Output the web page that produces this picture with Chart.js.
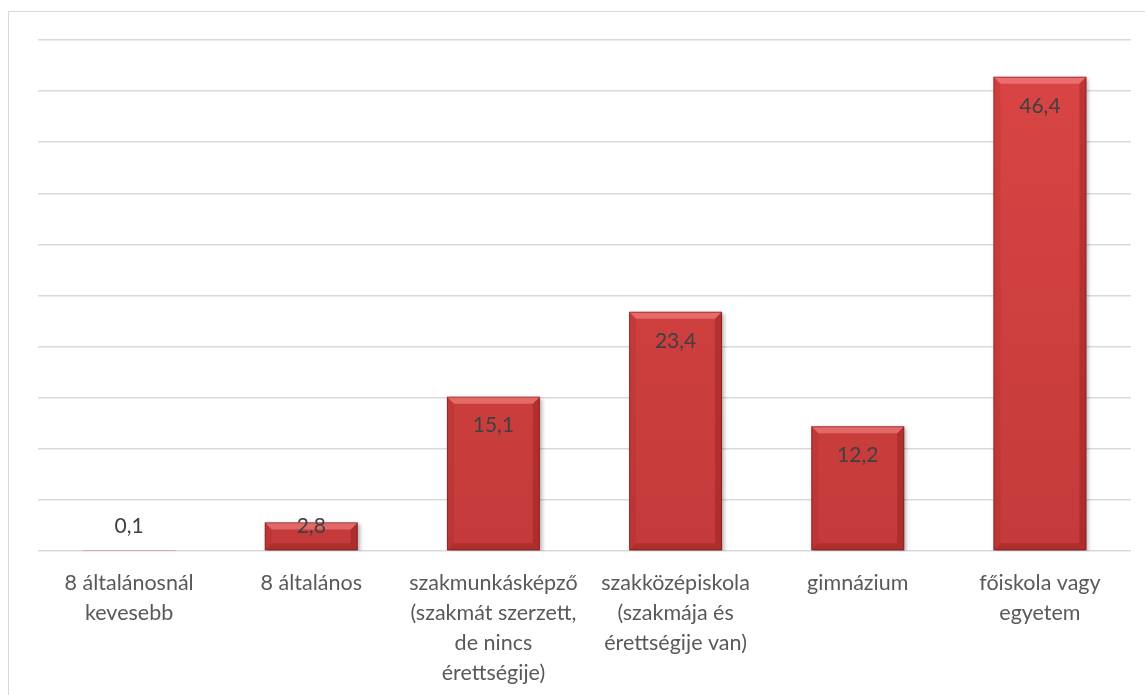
<!DOCTYPE html>
<html>
<head>
<meta charset="utf-8">
<script src="https://cdn.jsdelivr.net/npm/chart.js@4"></script>
<style>
  body { margin: 0; background: #fff; }
  #keret { position: absolute; left: 8px; top: 11px; width: 1200px; height: 760px; border: 1px solid #d9d9d9; }
  #grafikon { position: absolute; left: 0; top: 0; }
</style>
</head>
<body>
<div id="keret"></div>
<canvas id="grafikon" width="1145" height="695"></canvas>
<script>
const KATEGORIAK = [
  ['8 általánosnál', 'kevesebb'],
  '8 általános',
  ['szakmunkásképző', '(szakmát szerzett,', 'de nincs', 'érettségije)'],
  ['szakközépiskola', '(szakmája és', 'érettségije van)'],
  'gimnázium',
  ['főiskola vagy', 'egyetem']
];
const ERTEKEK = [0.1, 2.8, 15.1, 23.4, 12.2, 46.4];
const Y_MIN = 0;
const Y_MAX = 50;
const Y_LEPES = 5;

const BETU = '"Lato", "Noto Sans", sans-serif';

// oszlopok kitöltése: függőleges színátmenet
function oszlopSzin(ctx) {
  const chart = ctx.chart;
  const area = chart.chartArea;
  if (!area) return '#d04040';
  const g = chart.ctx.createLinearGradient(0, area.top, 0, area.bottom);
  g.addColorStop(0, '#da4545');
  g.addColorStop(1, '#c43a3a');
  return g;
}

// árnyék + kiemelt élek (Excel-szerű dombormű)
const dombormu = {
  id: 'dombormu',
  beforeDatasetDraw(chart) {
    const c = chart.ctx;
    c.save();
    c.shadowColor = 'rgba(0,0,0,0.3)';
    c.shadowBlur = 4;
    c.shadowOffsetX = 2;
    c.shadowOffsetY = 2;
  },
  afterDatasetDraw(chart, args) {
    const c = chart.ctx;
    c.restore();
    args.meta.data.forEach(bar => {
      const x0 = bar.x - bar.width / 2;
      const x1 = bar.x + bar.width / 2;
      const y0 = bar.y;
      const y1 = bar.base;
      const h = y1 - y0;
      if (h < 2) return;
      const b = Math.min(7, h / 2);
      c.save();
      // felső él
      c.fillStyle = 'rgba(255,150,150,0.5)';
      c.beginPath();
      c.moveTo(x0, y0); c.lineTo(x1, y0); c.lineTo(x1 - b, y0 + b); c.lineTo(x0 + b, y0 + b); c.closePath();
      c.fill();
      // jobb él
      c.fillStyle = 'rgba(90,0,0,0.22)';
      c.beginPath();
      c.moveTo(x1, y0); c.lineTo(x1, y1); c.lineTo(x1 - b, y1 - b); c.lineTo(x1 - b, y0 + b); c.closePath();
      c.fill();
      // bal él
      c.fillStyle = 'rgba(90,0,0,0.08)';
      c.beginPath();
      c.moveTo(x0, y0); c.lineTo(x0, y1); c.lineTo(x0 + b, y1 - b); c.lineTo(x0 + b, y0 + b); c.closePath();
      c.fill();
      // alsó él
      c.fillStyle = 'rgba(90,0,0,0.2)';
      c.beginPath();
      c.moveTo(x0, y1); c.lineTo(x1, y1); c.lineTo(x1 - b, y1 - b); c.lineTo(x0 + b, y1 - b); c.closePath();
      c.fill();
      c.strokeStyle = 'rgba(110,20,20,0.5)';
      c.lineWidth = 1;
      c.strokeRect(x0 + 0.5, y0 + 0.5, x1 - x0 - 1, h - 1);
      c.restore();
    });
  }
};

// adatfeliratok az oszlopok tetején belül
const feliratok = {
  id: 'feliratok',
  afterDatasetsDraw(chart) {
    const c = chart.ctx;
    const meta = chart.getDatasetMeta(0);
    c.save();
    c.font = '21px ' + BETU;
    c.fillStyle = '#404040';
    c.textAlign = 'center';
    c.textBaseline = 'middle';
    meta.data.forEach((bar, i) => {
      const y = Math.min(bar.y + 29, bar.base - 24);
      c.fillText(ERTEKEK[i].toFixed(1).replace('.', ','), bar.x, y);
    });
    c.restore();
  }
};

new Chart(document.getElementById('grafikon'), {
  type: 'bar',
  data: {
    labels: KATEGORIAK,
    datasets: [{
      data: ERTEKEK,
      backgroundColor: oszlopSzin,
      borderWidth: 0,
      barPercentage: 0.51,
      categoryPercentage: 1
    }]
  },
  options: {
    responsive: false,
    animation: false,
    layout: { padding: { left: 38, right: 14, top: 40, bottom: 0 } },
    plugins: { legend: { display: false }, tooltip: { enabled: false } },
    scales: {
      x: {
        grid: { display: false, drawTicks: false },
        border: { display: false },
        ticks: {
          color: '#595959',
          font: { family: BETU, size: 21.5, lineHeight: 1.4 },
          padding: 17,
          maxRotation: 0,
          autoSkip: false
        },
        afterFit(scale) { scale.height = 144; }
      },
      y: {
        min: Y_MIN,
        max: Y_MAX,
        ticks: { display: false, stepSize: Y_LEPES },
        grid: { color: '#d9d9d9', lineWidth: 1.5, drawTicks: false },
        border: { display: false }
      }
    }
  },
  plugins: [dombormu, feliratok]
});
</script>
</body>
</html>
